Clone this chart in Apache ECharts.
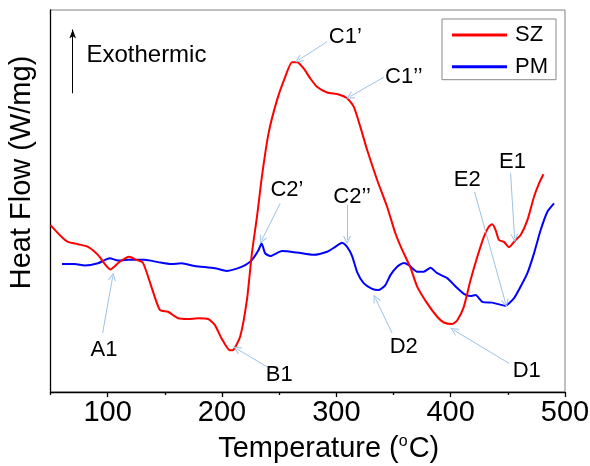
<!DOCTYPE html>
<html>
<head>
<meta charset="utf-8">
<script src="https://cdn.jsdelivr.net/npm/echarts@6/dist/echarts.min.js"></script>
<style>
  html, body { margin: 0; padding: 0; background: #fff; }
  #chart { width: 590px; height: 466px; }
</style>
</head>
<body>
<div id="chart"></div>
<script>
// DSC heat-flow curves: SZ (red) and PM (blue), arbitrary heat-flow units
const tempSZ = [50, 59.4, 65.2, 74, 82.8, 91.5, 102.3, 110.5, 118.7, 125.1, 130.9, 138.2, 145.6, 152.8, 161.6,
  170.4, 179.1, 187.9, 193.8, 199.5, 206.9, 209.8, 215.9, 221.8, 226.2, 230.6, 234.9, 240.7, 248.1, 255.3,
  261.2, 265.6, 271.4, 277.2, 283.1, 291.9, 302, 309.4, 315.2, 321, 326.9, 335.7, 344.4, 351.7, 357.6,
  364.9, 370.7, 379.5, 388.2, 394, 401.4, 405.8, 411.5, 417.4, 423.3, 429.1, 433.4, 436.4, 439.3, 442.2,
  446.6, 451, 456.8, 461.2, 467.1, 472.9, 477.3, 481.1];
const flowSZ = [43.7, 40.7, 39.3, 38.7, 38.0, 35.9, 32.1, 34.1, 35.4, 34.6, 33.8, 27.6, 21.5, 21.0, 19.3,
  19.1, 19.3, 19.1, 17.5, 14.1, 10.9, 11.0, 14.5, 24.1, 36.4, 45.9, 56.4, 67.7, 76.4, 82.5,
  86.3, 86.3, 84.7, 82.1, 79.9, 78.4, 77.9, 76.9, 74.7, 69.4, 63.4, 55.5, 48.5, 41.5, 37.2,
  32.5, 27.6, 23.2, 19.7, 18.2, 17.8, 18.8, 22.3, 29.3, 35.4, 40.7, 43.3, 43.9, 42.4, 39.8,
  39.3, 37.9, 39.8, 41.1, 45.0, 51.1, 54.6, 57.0];

const tempPM = [60, 71.1, 79.9, 91.5, 101.8, 109, 117.8, 132.4, 144.1, 155.7, 164.5, 176.2, 193.8, 204.1, 212.9,
  220.3, 226.2, 232, 234.6, 237.8, 242.2, 252.5, 265.6, 280.1, 291.9, 299.1, 305, 309.4, 313.8, 318.2,
  323.9, 331.3, 337.1, 342.9, 347.3, 353.2, 359, 363.4, 370.7, 376.5, 382.4, 388.2, 397, 404.3, 411.5,
  417.4, 421.8, 427.7, 436.4, 447.5, 455.3, 461.2, 467.1, 472.9, 478.7, 484.6, 490.4];
const flowPM = [33.5, 33.5, 33.1, 33.7, 35.0, 34.4, 34.6, 34.6, 34.0, 33.5, 33.7, 33.0, 32.4, 31.7, 32.3,
  33.2, 34.6, 37.2, 38.9, 36.3, 35.6, 36.9, 36.5, 35.9, 36.7, 38.0, 39.1, 38.0, 35.6, 31.4,
  28.5, 27.0, 26.7, 28.0, 30.6, 32.8, 33.8, 33.2, 31.5, 31.5, 32.5, 31.1, 29.8, 27.6, 25.7,
  25.1, 25.4, 23.6, 23.4, 22.6, 24.5, 27.6, 31.1, 36.3, 42.4, 47.2, 49.4];

const seriesNames = ['SZ', 'PM'];
const xTickValues = [100, 200, 300, 400, 500];
const xMinorTickValues = [50, 150, 250, 350, 450];

// Peak callouts in data coordinates: label centre, arrow tail, arrow tip
const peakNotes = [
  { name: 'A1',   label: [96.8, 11.0],  from: [95.6, 15.4],  to: [104.4, 30.2] },
  { name: 'B1',   label: [250.1, 4.5],  from: [239.3, 6.6],  to: [213.0, 11.3] },
  { name: 'C1\u2019',       label: [307.9, 93.0], from: [291.9, 91.7], to: [267.0, 86.9] },
  { name: 'C1\u2019\u2019', label: [359.0, 82.5], from: [341.5, 82.4], to: [311.7, 77.3] },
  { name: 'C2\u2019',       label: [256.8, 52.9], from: [250.9, 49.4], to: [234.9, 39.8] },
  { name: 'C2\u2019\u2019', label: [313.8, 51.1], from: [309.4, 49.0], to: [309.4, 39.8] },
  { name: 'D2',   label: [359.0, 11.9], from: [348.8, 15.4], to: [334.2, 24.5] },
  { name: 'D1',   label: [466.5, 5.6],  from: [451.0, 7.5],  to: [402.8, 16.2] },
  { name: 'E2',   label: [414.5, 55.5], from: [420.9, 52.4], to: [448.1, 23.2] },
  { name: 'E1',   label: [454.0, 60.3], from: [452.4, 57.3], to: [455.9, 40.3] }
];
const exoArrow = { from: [69.4, 78.2], to: [69.4, 94.9] };
const exoLabel = { name: 'Exothermic', at: [133.9, 88.0] };

const FONT = '"Liberation Sans", Arial, Helvetica, sans-serif';
const CALLOUT_BLUE = '#9dc3e6';
const OPEN_ARROW = 'path://M0,10 L5,0 L10,10 L8.6,10 L5,2.8 L1.4,10 Z';

const zip = (xs, ys) => xs.map((x, i) => [x, ys[i]]);

const calloutLines = peakNotes.map(n => [
  { coord: n.from, symbol: 'none' },
  { coord: n.to, symbol: OPEN_ARROW, symbolSize: [8, 8] }
]);
calloutLines.push([
  { coord: exoArrow.from, symbol: 'none', lineStyle: { color: '#000', width: 1 } },
  { coord: exoArrow.to, symbol: 'arrow', symbolSize: [5, 9] }
]);

const calloutLabels = peakNotes.map(n => ({
  name: n.name, coord: n.label,
  label: { fontSize: 22 }
}));
calloutLabels.push({ name: exoLabel.name, coord: exoLabel.at, label: { fontSize: 24 } });

const chart = echarts.init(document.getElementById('chart'), null, { renderer: 'canvas' });
chart.setOption({
  animation: false,
  backgroundColor: '#fff',
  textStyle: { fontFamily: FONT },
  grid: {
    left: 50.5, right: 25, top: 10, bottom: 74,
    show: true, borderColor: '#808080', borderWidth: 1,
    outerBoundsMode: 'none'
  },
  legend: {
    data: seriesNames,
    orient: 'vertical',
    left: 442, top: 19,
    padding: [4, 8, 1, 10],
    itemGap: 7.7,
    itemWidth: 55, itemHeight: 3,
    icon: 'rect',
    borderColor: '#888', borderWidth: 1,
    textStyle: { fontSize: 22, color: '#000', fontFamily: FONT, lineHeight: 24, padding: [0, 0, 0, 3] }
  },
  xAxis: [
    {
      type: 'value', min: 50, max: 500,
      name: 'Temperature ({sup|o}C)',
      nameLocation: 'middle', nameGap: 42,
      nameTextStyle: {
        fontSize: 29, color: '#000', fontFamily: FONT, padding: [0, 0, 0, 42],
        rich: { sup: { fontSize: 16, verticalAlign: 'top', color: '#000', fontFamily: FONT, padding: [0, 1, 0, 0] } }
      },
      axisLine: { show: true, lineStyle: { color: '#000', width: 1.3 } },
      axisTick: { show: true, customValues: xTickValues, length: 5, lineStyle: { color: '#000', width: 1.3 } },
      axisLabel: { customValues: xTickValues, fontSize: 29, color: '#000', margin: 6, fontFamily: FONT },
      splitLine: { show: false }
    },
    {
      type: 'value', min: 50, max: 500, position: 'bottom',
      axisLine: { show: false },
      axisTick: { show: true, customValues: xMinorTickValues, length: 3, lineStyle: { color: '#000', width: 1.3 } },
      axisLabel: { show: false },
      splitLine: { show: false }
    }
  ],
  yAxis: {
    type: 'value', min: 0, max: 100,
    name: 'Heat Flow (W/mg)',
    nameLocation: 'middle', nameGap: 14,
    nameTextStyle: { fontSize: 29, color: '#000', fontFamily: FONT, padding: [0, 0, 0, 57] },
    axisLine: { show: true, lineStyle: { color: '#000', width: 1.3 } },
    axisTick: { show: false },
    axisLabel: { show: false },
    splitLine: { show: false }
  },
  series: [
    {
      name: 'SZ', type: 'line', xAxisIndex: 0,
      data: zip(tempSZ, flowSZ),
      showSymbol: false, symbol: 'none', smooth: 0.2,
      lineStyle: { color: '#ff0000', width: 2 },
      itemStyle: { color: '#ff0000' },
      z: 3
    },
    {
      name: 'PM', type: 'line', xAxisIndex: 0,
      data: zip(tempPM, flowPM),
      showSymbol: false, symbol: 'none', smooth: 0.2,
      lineStyle: { color: '#0000ff', width: 2 },
      itemStyle: { color: '#0000ff' },
      z: 2
    },
    {
      name: 'callouts', type: 'line', xAxisIndex: 0,
      data: [],
      silent: true,
      markLine: {
        silent: true,
        animation: false,
        symbol: ['none', OPEN_ARROW],
        lineStyle: { color: CALLOUT_BLUE, width: 1, type: 'solid' },
        itemStyle: { color: CALLOUT_BLUE },
        label: { show: false },
        emphasis: { disabled: true },
        data: calloutLines
      },
      markPoint: {
        silent: true,
        animation: false,
        symbol: 'circle', symbolSize: 1,
        itemStyle: { color: 'rgba(0,0,0,0)' },
        label: { show: true, position: 'inside', formatter: '{b}', color: '#000', fontFamily: FONT },
        data: calloutLabels
      }
    }
  ]
});
</script>
</body>
</html>
